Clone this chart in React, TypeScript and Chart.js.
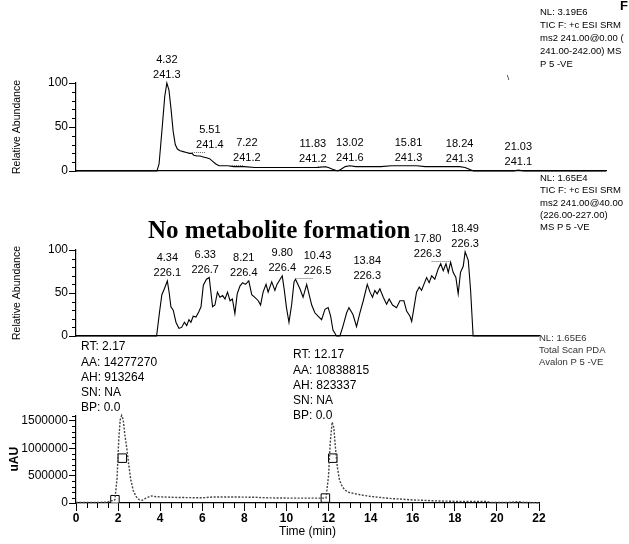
import { useEffect, useRef } from "react";
import { Chart, registerables } from "chart.js";

Chart.register(...registerables);

// ---------- Panel 1: TIC, SRM 241 ----------
const TOP_TIME = [0, 3.85, 3.95, 4.1, 4.22, 4.32, 4.42, 4.52, 4.62, 4.72, 4.82, 4.95, 5.1, 5.25, 5.4, 5.51, 5.6, 5.75, 5.9, 6.05, 6.2, 6.35, 6.5, 6.65, 6.8, 7.0, 7.22, 7.5, 8.0, 8.5, 9.0, 9.5, 10.0, 10.5, 11.0, 11.5, 11.83, 12.0, 12.2, 12.45, 12.6, 12.8, 13.02, 13.3, 13.6, 14.0, 14.5, 15.0, 15.5, 15.81, 16.2, 16.6, 17.0, 17.5, 18.0, 18.24, 18.5, 18.7, 18.9, 20.8, 21.03, 21.3, 25.2];
const TOP_ABUND = [0, 0, 8, 50, 85, 100, 92, 70, 45, 30, 25, 23, 22, 21, 20, 20, 18, 17, 17, 16, 15, 14, 11, 8, 6, 6, 6, 5, 5, 4, 4, 4, 4, 4, 4, 4, 5, 4, 2, 0, 2, 5, 6, 5, 5, 5, 5, 6, 6, 6, 6, 5, 5, 5, 5, 5, 4, 2, 0, 0, 1, 0, 0];
const TOP_PEAK_RT = [4.32, 5.51, 7.22, 11.83, 13.02, 15.81, 18.24, 21.03];
const TOP_PEAK_MZ = ["241.3", "241.4", "241.2", "241.2", "241.6", "241.3", "241.3", "241.1"];

// ---------- Panel 2: TIC, SRM 226 ----------
const MID_TIME = [0, 3.83, 3.97, 4.08, 4.2, 4.34, 4.43, 4.51, 4.62, 4.75, 4.89, 5.02, 5.15, 5.26, 5.37, 5.46, 5.57, 5.7, 5.83, 5.94, 6.05, 6.2, 6.33, 6.4, 6.49, 6.6, 6.72, 6.84, 6.97, 7.08, 7.2, 7.32, 7.43, 7.55, 7.66, 7.79, 7.92, 8.05, 8.21, 8.35, 8.5, 8.66, 8.77, 8.89, 9.03, 9.13, 9.3, 9.45, 9.55, 9.8, 9.9, 10.0, 10.12, 10.25, 10.36, 10.43, 10.64, 10.79, 10.96, 11.07, 11.2, 11.35, 11.5, 11.67, 11.83, 11.98, 12.1, 12.21, 12.38, 12.54, 12.68, 12.86, 12.97, 13.16, 13.33, 13.49, 13.65, 13.84, 13.97, 14.09, 14.2, 14.31, 14.44, 14.6, 14.76, 14.88, 15.04, 15.23, 15.39, 15.58, 15.71, 15.87, 15.95, 16.06, 16.18, 16.31, 16.42, 16.53, 16.66, 16.78, 16.9, 17.05, 17.21, 17.33, 17.45, 17.58, 17.69, 17.8, 17.92, 18.05, 18.16, 18.27, 18.4, 18.49, 18.64, 18.75, 18.87, 22];
const MID_ABUND = [0, 0, 28, 48, 55, 64, 50, 34, 30, 16, 9, 10, 16, 12, 19, 16, 23, 22, 28, 34, 59, 66, 68, 53, 34, 36, 51, 45, 47, 43, 51, 41, 43, 26, 49, 58, 62, 60, 64, 48, 45, 41, 36, 51, 60, 51, 63, 53, 60, 70, 53, 33, 16, 37, 63, 66, 55, 45, 60, 49, 36, 27, 23, 19, 31, 33, 23, 7, 0, 0, 11, 27, 33, 25, 11, 27, 41, 60, 51, 45, 53, 49, 55, 45, 37, 43, 36, 33, 41, 41, 29, 23, 17, 33, 51, 57, 53, 60, 68, 62, 70, 66, 78, 84, 76, 84, 74, 86, 74, 68, 49, 74, 81, 98, 88, 53, 0, 0];
const MID_PEAK_RT = [4.34, 6.33, 8.21, 9.8, 10.43, 13.84, 17.8, 18.49];
const MID_PEAK_MZ = ["226.1", "226.7", "226.4", "226.4", "226.5", "226.3", "226.3", "226.3"];

// ---------- Panel 3: PDA total scan ----------
const PDA_TIME = [0, 1.0, 1.5, 1.65, 1.8, 1.85, 1.95, 2.03, 2.1, 2.17, 2.24, 2.32, 2.42, 2.5, 2.6, 2.72, 2.85, 3.0, 3.15, 3.3, 3.5, 3.6, 3.8, 4.5, 5.0, 6.0, 6.5, 7.5, 8.5, 9.0, 10.0, 11.0, 11.88, 12.0, 12.08, 12.17, 12.25, 12.33, 12.42, 12.52, 12.65, 12.8, 13.0, 13.5, 14.0, 14.5, 15.0, 15.5, 16.0, 16.5, 17.0, 17.5, 18.0, 19.5, 19.7, 20.5, 21.0, 21.3, 22.0];
const PDA_UAU = [10000, 10000, 15000, 40000, 45000, 60000, 450000, 1150000, 1520000, 1600000, 1530000, 1250000, 980000, 720000, 430000, 230000, 120000, 60000, 50000, 85000, 120000, 130000, 115000, 105000, 100000, 95000, 110000, 110000, 105000, 95000, 90000, 90000, 90000, 500000, 1100000, 1480000, 1380000, 1000000, 650000, 420000, 300000, 230000, 190000, 150000, 120000, 100000, 80000, 70000, 55000, 50000, 40000, 35000, 30000, 30000, 10000, 10000, 25000, 10000, 5000];
const PDA_MARK_TIME = [1.85, 2.2, 11.85, 12.2];
const PDA_MARK_UAU = [60000, 820000, 90000, 820000];

// ---------- Axis ticks ----------
const ABUND_TICKS = [0, 50, 100];
const UAU_TICKS = [0, 500000, 1000000, 1500000];
const TIME_TICKS = [0, 2, 4, 6, 8, 10, 12, 14, 16, 18, 20, 22];

// label placement tweaks (pixels, layout only)
const TOP_LABEL_DX = [0, 18, 19, -12, 0, 0, 0, 0];
const MID_LABEL_DX = [0, -4, -5, 0, 22, 0, -23, 0];

const SANS = '"Liberation Sans", Arial, Helvetica, sans-serif';
const SERIF = '"Liberation Serif", "Times New Roman", serif';

function interp(xs: number[], ys: number[], x: number) {
  for (let i = 1; i < xs.length; i++) {
    if (x <= xs[i]) {
      const t = (x - xs[i - 1]) / (xs[i] - xs[i - 1]);
      return ys[i - 1] + t * (ys[i] - ys[i - 1]);
    }
  }
  return ys[ys.length - 1];
}

type Minor = { axis: string; step: number; len: number; major: number[] };
function makeMinorTicks(items: Minor[]) {
  return {
    id: "minorTicks",
    afterDraw(chart: any) {
      const { ctx, chartArea } = chart;
      ctx.save();
      ctx.strokeStyle = "#000";
      ctx.lineWidth = 1;
      ctx.beginPath();
      for (const it of items) {
        const s = chart.scales[it.axis];
        const n = Math.round((s.max - s.min) / it.step);
        for (let i = 0; i <= n; i++) {
          const v = s.min + i * it.step;
          if (it.major.some((m) => Math.abs(m - v) < it.step / 100)) continue;
          const p = s.getPixelForValue(v);
          if (s.isHorizontal()) {
            const px = Math.round(p) + 0.5;
            ctx.moveTo(px, chartArea.bottom);
            ctx.lineTo(px, chartArea.bottom + it.len);
          } else {
            const py = Math.round(p) + 0.5;
            ctx.moveTo(chartArea.left - it.len, py);
            ctx.lineTo(chartArea.left, py);
          }
        }
      }
      ctx.stroke();
      ctx.restore();
    },
  };
}

function makePeakLabels(times: number[], values: number[], rts: number[], mzs: string[], dx: number[]) {
  return {
    id: "peakLabels",
    afterDatasetsDraw(chart: any) {
      const { ctx } = chart;
      const xs = chart.scales.x;
      const ys = chart.scales.y;
      ctx.save();
      ctx.font = `11px ${SANS}`;
      ctx.fillStyle = "#000";
      ctx.textAlign = "center";
      ctx.textBaseline = "middle";
      rts.forEach((rt, i) => {
        const v = interp(times, values, rt);
        const px = xs.getPixelForValue(rt);
        const py = ys.getPixelForValue(v);
        const lx = px + (dx[i] || 0);
        ctx.fillText(rt.toFixed(2), lx, py - 23);
        ctx.fillText(mzs[i], lx, py - 8);
        if (dx[i]) {
          ctx.save();
          ctx.strokeStyle = "#666";
          ctx.setLineDash([1, 1]);
          ctx.beginPath();
          const ly = Math.round(py - 1) + 0.5;
          ctx.moveTo(px, ly);
          ctx.lineTo(lx + (dx[i] > 0 ? -4 : 4), ly);
          ctx.stroke();
          ctx.restore();
        }
      });
      ctx.restore();
    },
  };
}

type TextItem = { t: string; x: number; y: number; font: string; color?: string; align?: CanvasTextAlign; base?: CanvasTextBaseline };
function makeText(items: TextItem[]) {
  return {
    id: "freeText",
    afterDraw(chart: any) {
      const { ctx } = chart;
      ctx.save();
      for (const it of items) {
        ctx.font = it.font;
        ctx.fillStyle = it.color || "#000";
        ctx.textAlign = it.align || "left";
        ctx.textBaseline = it.base || "middle";
        ctx.fillText(it.t, it.x, it.y);
      }
      ctx.restore();
    },
  };
}

function yAxis(min: number, max: number, ticks: number[], title: string, titleFont: any, titlePad: number) {
  return {
    type: "linear",
    min,
    max,
    afterBuildTicks: (s: any) => {
      s.ticks = ticks.map((v) => ({ value: v }));
    },
    afterFit: (s: any) => {
      s.width = 72;
    },
    ticks: { color: "#000", font: { family: SANS, size: 12 }, padding: 1, callback: (v: any) => String(v) },
    grid: { drawOnChartArea: false, drawTicks: true, tickLength: 7, tickColor: "#000", tickWidth: 1 },
    border: { display: true, color: "#000", width: 1.2 },
    title: { display: true, text: title, color: "#000", font: titleFont, padding: { top: titlePad, bottom: 0 } },
  };
}

function hiddenX(max: number) {
  return {
    type: "linear",
    min: 0,
    max,
    afterFit: (s: any) => {
      s.height = 0;
    },
    ticks: { display: false },
    grid: { display: false, drawTicks: false },
    border: { display: true, color: "#000", width: 1.2 },
  };
}

const RIGHT_FONT = `9.5px ${SANS}`;
const NOTE_FONT = `12px ${SANS}`;

function topConfig(): any {
  return {
    type: "line",
    data: {
      datasets: [
        {
          data: TOP_TIME.map((t, i) => ({ x: t, y: TOP_ABUND[i] })),
          borderColor: "#000",
          borderWidth: 1.1,
          pointRadius: 0,
          tension: 0,
          clip: false,
        },
      ],
    },
    options: {
      animation: false,
      responsive: false,
      events: [],
      layout: { padding: { left: 4, right: 23, top: 83, bottom: 373 } },
      plugins: { legend: { display: false }, tooltip: { enabled: false } },
      scales: {
        x: hiddenX(25.2),
        y: yAxis(0, 100, ABUND_TICKS, "Relative Abundance", { family: SANS, size: 10.5 }, 6.7),
      },
    },
    plugins: [
      makeMinorTicks([{ axis: "y", step: 10, len: 4, major: ABUND_TICKS }]),
      makePeakLabels(TOP_TIME, TOP_ABUND, TOP_PEAK_RT, TOP_PEAK_MZ, TOP_LABEL_DX),
      makeText([
        { t: "F", x: 620, y: 10, font: `bold 13px ${SANS}`, base: "alphabetic" },
        { t: "NL: 3.19E6", x: 540, y: 12, font: RIGHT_FONT },
        { t: "TIC F: +c ESI SRM", x: 540, y: 25, font: RIGHT_FONT },
        { t: "ms2 241.00@0.00 (", x: 540, y: 38, font: RIGHT_FONT },
        { t: "241.00-242.00) MS", x: 540, y: 51, font: RIGHT_FONT },
        { t: "P 5 -VE", x: 540, y: 64, font: RIGHT_FONT },
        { t: "\\", x: 507, y: 78, font: `8px ${SANS}` },
      ]),
    ],
  };
}

function midConfig(): any {
  return {
    type: "line",
    data: {
      datasets: [
        {
          data: MID_TIME.map((t, i) => ({ x: t, y: MID_ABUND[i] })),
          borderColor: "#000",
          borderWidth: 1.1,
          pointRadius: 0,
          tension: 0,
          clip: false,
        },
      ],
    },
    options: {
      animation: false,
      responsive: false,
      events: [],
      layout: { padding: { left: 4, right: 90, top: 250, bottom: 208 } },
      plugins: { legend: { display: false }, tooltip: { enabled: false } },
      scales: {
        x: hiddenX(22),
        y: yAxis(0, 100, ABUND_TICKS, "Relative Abundance", { family: SANS, size: 10.5 }, 6.7),
      },
    },
    plugins: [
      makeMinorTicks([{ axis: "y", step: 10, len: 4, major: ABUND_TICKS }]),
      makePeakLabels(MID_TIME, MID_ABUND, MID_PEAK_RT, MID_PEAK_MZ, MID_LABEL_DX),
      makeText([
        { t: "No metabolite formation", x: 148, y: 238, font: `bold 25px ${SERIF}`, base: "alphabetic" },
        { t: "NL: 1.65E4", x: 540, y: 178, font: RIGHT_FONT },
        { t: "TIC F: +c ESI SRM", x: 540, y: 190.5, font: RIGHT_FONT },
        { t: "ms2 241.00@40.00", x: 540, y: 203, font: RIGHT_FONT },
        { t: "(226.00-227.00)", x: 540, y: 215, font: RIGHT_FONT },
        { t: "MS P 5 -VE", x: 540, y: 227, font: RIGHT_FONT },
      ]),
    ],
  };
}

function botConfig(): any {
  return {
    type: "line",
    data: {
      datasets: [
        {
          data: PDA_TIME.map((t, i) => ({ x: t, y: PDA_UAU[i] })),
          borderColor: "#444",
          borderWidth: 1.4,
          borderDash: [2, 1.5],
          pointRadius: 0,
          tension: 0,
          clip: false,
        },
        {
          data: PDA_MARK_TIME.map((t, i) => ({ x: t, y: PDA_MARK_UAU[i] })),
          showLine: false,
          pointStyle: "rect",
          pointRadius: 6,
          pointBorderColor: "#000",
          pointBackgroundColor: "rgba(255,255,255,0.6)",
          pointBorderWidth: 1,
        },
      ],
    },
    options: {
      animation: false,
      responsive: false,
      events: [],
      layout: { padding: { left: 4, right: 90, top: 415.5, bottom: 0 } },
      plugins: { legend: { display: false }, tooltip: { enabled: false } },
      scales: {
        x: {
          type: "linear",
          min: 0,
          max: 22,
          afterBuildTicks: (s: any) => {
            s.ticks = TIME_TICKS.map((v) => ({ value: v }));
          },
          afterFit: (s: any) => {
            s.height = 41;
          },
          ticks: {
            color: "#000",
            font: { family: SANS, size: 12, weight: "bold" },
            padding: 0,
            maxRotation: 0,
            autoSkip: false,
            callback: (v: any) => String(v),
          },
          grid: { drawOnChartArea: false, drawTicks: true, tickLength: 8, tickColor: "#000", tickWidth: 1 },
          border: { display: true, color: "#000", width: 1.2 },
          title: { display: true, text: "Time (min)", color: "#000", font: { family: SANS, size: 12 }, padding: { top: 0, bottom: 5.5 } },
        },
        y: yAxis(0, 1600000, UAU_TICKS, "uAU", { family: SANS, size: 12, weight: "bold" }, 3.8),
      },
    },
    plugins: [
      makeMinorTicks([
        { axis: "y", step: 100000, len: 4, major: UAU_TICKS },
        { axis: "x", step: 0.5, len: 5, major: TIME_TICKS },
      ]),
      makeText([
        { t: "RT: 2.17", x: 81, y: 347, font: NOTE_FONT },
        { t: "AA: 14277270", x: 81, y: 362.5, font: NOTE_FONT },
        { t: "AH: 913264", x: 81, y: 378, font: NOTE_FONT },
        { t: "SN: NA", x: 81, y: 393, font: NOTE_FONT },
        { t: "BP: 0.0", x: 81, y: 408, font: NOTE_FONT },
        { t: "RT: 12.17", x: 293, y: 355, font: NOTE_FONT },
        { t: "AA: 10838815", x: 293, y: 370.5, font: NOTE_FONT },
        { t: "AH: 823337", x: 293, y: 386, font: NOTE_FONT },
        { t: "SN: NA", x: 293, y: 401, font: NOTE_FONT },
        { t: "BP: 0.0", x: 293, y: 416, font: NOTE_FONT },
        { t: "NL: 1.65E6", x: 539, y: 338, font: RIGHT_FONT, color: "#333" },
        { t: "Total Scan PDA", x: 539, y: 350, font: RIGHT_FONT, color: "#333" },
        { t: "Avalon P 5 -VE", x: 539, y: 362, font: RIGHT_FONT, color: "#333" },
      ]),
    ],
  };
}

export default function App() {
  const topRef = useRef<HTMLCanvasElement>(null);
  const midRef = useRef<HTMLCanvasElement>(null);
  const botRef = useRef<HTMLCanvasElement>(null);

  useEffect(() => {
    const charts: Chart[] = [];
    if (topRef.current) charts.push(new Chart(topRef.current, topConfig()));
    if (midRef.current) charts.push(new Chart(midRef.current, midConfig()));
    if (botRef.current) charts.push(new Chart(botRef.current, botConfig()));
    return () => charts.forEach((c) => c.destroy());
  }, []);

  const cs: any = { position: "absolute", left: 0, top: 0, width: 629, height: 544 };
  return (
    <div style={{ position: "fixed", left: 0, top: 0, width: 629, height: 544, background: "#fff", overflow: "hidden" }}>
      <canvas ref={topRef} width={629} height={544} style={cs} />
      <canvas ref={midRef} width={629} height={544} style={cs} />
      <canvas ref={botRef} width={629} height={544} style={cs} />
    </div>
  );
}
